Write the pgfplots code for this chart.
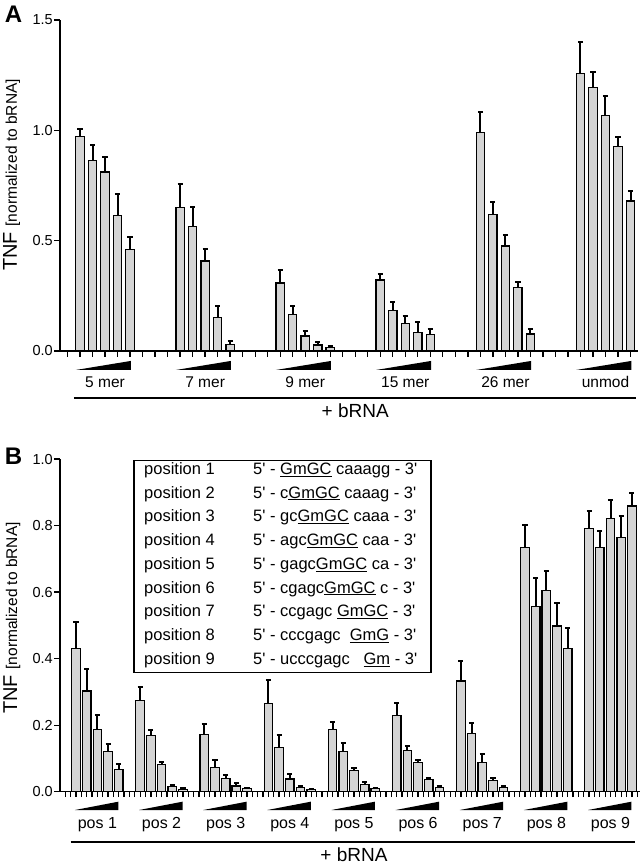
\documentclass[border=0pt]{standalone}
\usepackage{pgfplots}
\usepackage{pgfplotstable}
\pgfplotsset{compat=1.18}
\usepackage{fontspec}
\setmainfont{Liberation Sans}
\definecolor{barfill}{RGB}{212,212,212}
\newcommand\q{\textquotesingle}
\newcommand\fs[1]{\fontsize{#1}{#1}\selectfont}

\pgfplotstableread{
x y e
1 0.971 0.037
2 0.864 0.070
3 0.811 0.068
4 0.613 0.100
5 0.459 0.058
9 0.651 0.104
10 0.563 0.088
11 0.408 0.053
12 0.151 0.054
13 0.029 0.016
17 0.308 0.058
18 0.165 0.040
19 0.068 0.023
20 0.027 0.014
21 0.017 0.007
25 0.322 0.028
26 0.183 0.037
27 0.125 0.034
28 0.083 0.047
29 0.076 0.022
33 0.992 0.091
34 0.619 0.055
35 0.476 0.048
36 0.287 0.024
37 0.077 0.023
41 1.257 0.145
42 1.193 0.073
43 1.069 0.087
44 0.926 0.045
45 0.680 0.045
}\dataA

\pgfplotstableread{
x y e
0 0.431 0.078
1 0.303 0.067
2 0.187 0.043
3 0.121 0.022
4 0.067 0.015
6 0.273 0.041
7 0.168 0.018
8 0.082 0.007
9 0.016 0.005
10 0.007 0.003
12 0.173 0.032
13 0.073 0.023
14 0.039 0.012
15 0.017 0.008
16 0.009 0.002
18 0.266 0.071
19 0.133 0.036
20 0.038 0.014
21 0.013 0.004
22 0.006 0.001
24 0.187 0.023
25 0.120 0.025
26 0.063 0.007
27 0.022 0.008
28 0.009 0.003
30 0.228 0.039
31 0.124 0.012
32 0.089 0.006
33 0.036 0.004
34 0.013 0.004
36 0.333 0.060
37 0.175 0.033
38 0.089 0.025
39 0.033 0.009
40 0.012 0.004
42 0.734 0.067
43 0.556 0.087
44 0.604 0.058
45 0.498 0.068
46 0.430 0.062
48 0.792 0.053
49 0.733 0.051
50 0.820 0.056
51 0.764 0.066
52 0.859 0.040
}\dataB

\pgfplotsset{
  panel/.style={
    scale only axis,
    axis lines*=left,
    axis line style={line width=1.4pt,-},
    tick align=outside,
    major tick length=5.5pt,
    tick style={line width=1.3pt,black},
    xticklabels={},
    ymin=0,
    clip=false,
    ybar,
    /pgf/number format/assume math mode=true,
    yticklabel style={font=\fs{14.5},inner sep=1.5pt,
      /pgf/number format/.cd,fixed,fixed zerofill,precision=1},
    ylabel={\fs{20}TNF \fs{15.5}[normalized to bRNA]},
  },
  bars/.style={fill=barfill,draw=black,line width=1.2pt,
    error bars/.cd,y dir=plus,y explicit,
    error bar style={line width=2pt,black},
    error mark options={rotate=90,line width=2pt,mark size=2.6pt,black}},
}

\begin{document}
\begin{tikzpicture}
\path[use as bounding box] (0pt,0pt) rectangle (643pt,-865pt);
\node[font=\fs{24}\bfseries,inner sep=0] at (13.5pt,-14pt) {A};
\node[font=\fs{24}\bfseries,inner sep=0] at (13.5pt,-456.7pt) {B};

% ---------------- Panel A ----------------
\begin{axis}[panel,
  at={(60pt,-351pt)},anchor=south west,
  width=578pt,height=331pt,
  xmin=-0.6,xmax=45.6,ymax=1.5,
  xtick={0,...,45},
  ytick={0,0.5,1,1.5},
  bar width=0.67,
  ylabel style={at={(axis description cs:-0.0744,0.532)},anchor=base},
]
\addplot[bars] table[x=x,y=y,y error=e] {\dataA};
\fill (axis cs:0.66,-0.086) -- (axis cs:5.06,-0.045) -- (axis cs:5.06,-0.086) -- cycle;
\fill (axis cs:8.66,-0.086) -- (axis cs:13.06,-0.045) -- (axis cs:13.06,-0.086) -- cycle;
\fill (axis cs:16.66,-0.086) -- (axis cs:21.06,-0.045) -- (axis cs:21.06,-0.086) -- cycle;
\fill (axis cs:24.66,-0.086) -- (axis cs:29.06,-0.045) -- (axis cs:29.06,-0.086) -- cycle;
\fill (axis cs:32.66,-0.086) -- (axis cs:37.06,-0.045) -- (axis cs:37.06,-0.086) -- cycle;
\fill (axis cs:40.66,-0.086) -- (axis cs:45.06,-0.045) -- (axis cs:45.06,-0.086) -- cycle;
\node[font=\fs{15.5},inner sep=0] at (axis cs:3,-0.142) {5 mer};
\node[font=\fs{15.5},inner sep=0] at (axis cs:11,-0.142) {7 mer};
\node[font=\fs{15.5},inner sep=0] at (axis cs:19,-0.142) {9 mer};
\node[font=\fs{15.5},inner sep=0] at (axis cs:27,-0.142) {15 mer};
\node[font=\fs{15.5},inner sep=0] at (axis cs:35,-0.142) {26 mer};
\node[font=\fs{15.5},inner sep=0] at (axis cs:43,-0.142) {unmod};
\draw[line width=2pt] (axis cs:0.5,-0.213) -- (axis cs:45.4,-0.213);
\node[font=\fs{19},inner sep=0] at (axis cs:23,-0.271) {+ bRNA};
\end{axis}

% ---------------- Panel B ----------------
\begin{axis}[panel,
  at={(60pt,-791.7pt)},anchor=south west,
  width=580pt,height=332.7pt,
  xmin=-1.5,xmax=52.76,ymax=1.0,
  xtick={-1,-0.5,...,52.5},
  ytick={0,0.2,0.4,0.6,0.8,1.0},
  bar width=0.8,
  ylabel style={at={(axis description cs:-0.0741,0.522)},anchor=base},
]
\addplot[bars] table[x=x,y=y,y error=e] {\dataB};
\fill (axis cs:-0.1,-0.055) -- (axis cs:3.96,-0.030) -- (axis cs:3.96,-0.055) -- cycle;
\fill (axis cs:5.9,-0.055) -- (axis cs:9.96,-0.030) -- (axis cs:9.96,-0.055) -- cycle;
\fill (axis cs:11.9,-0.055) -- (axis cs:15.96,-0.030) -- (axis cs:15.96,-0.055) -- cycle;
\fill (axis cs:17.9,-0.055) -- (axis cs:21.96,-0.030) -- (axis cs:21.96,-0.055) -- cycle;
\fill (axis cs:23.9,-0.055) -- (axis cs:27.96,-0.030) -- (axis cs:27.96,-0.055) -- cycle;
\fill (axis cs:29.9,-0.055) -- (axis cs:33.96,-0.030) -- (axis cs:33.96,-0.055) -- cycle;
\fill (axis cs:35.9,-0.055) -- (axis cs:39.96,-0.030) -- (axis cs:39.96,-0.055) -- cycle;
\fill (axis cs:41.9,-0.055) -- (axis cs:45.96,-0.030) -- (axis cs:45.96,-0.055) -- cycle;
\fill (axis cs:47.9,-0.055) -- (axis cs:51.96,-0.030) -- (axis cs:51.96,-0.055) -- cycle;
\node[font=\fs{16},inner sep=0] at (axis cs:2,-0.100) {pos 1};
\node[font=\fs{16},inner sep=0] at (axis cs:8,-0.100) {pos 2};
\node[font=\fs{16},inner sep=0] at (axis cs:14,-0.100) {pos 3};
\node[font=\fs{16},inner sep=0] at (axis cs:20,-0.100) {pos 4};
\node[font=\fs{16},inner sep=0] at (axis cs:26,-0.100) {pos 5};
\node[font=\fs{16},inner sep=0] at (axis cs:32,-0.100) {pos 6};
\node[font=\fs{16},inner sep=0] at (axis cs:38,-0.100) {pos 7};
\node[font=\fs{16},inner sep=0] at (axis cs:44,-0.100) {pos 8};
\node[font=\fs{16},inner sep=0] at (axis cs:50,-0.100) {pos 9};
\draw[line width=2pt] (axis cs:-0.5,-0.150) -- (axis cs:52.3,-0.150);
\node[font=\fs{19},inner sep=0] at (axis cs:26,-0.190) {+ bRNA};
\end{axis}

% ---------------- sequence table ----------------
\draw[line width=1.3pt,fill=white] (134pt,-460.7pt) rectangle (431pt,-672.7pt);
\begin{scope}[every node/.style={anchor=mid west,inner sep=0,font=\fs{16.5}}]
\node at (144pt,-471.7pt) {position 1};
\node at (144pt,-495.45pt) {position 2};
\node at (144pt,-519.2pt) {position 3};
\node at (144pt,-542.95pt) {position 4};
\node at (144pt,-566.7pt) {position 5};
\node at (144pt,-590.45pt) {position 6};
\node at (144pt,-614.2pt) {position 7};
\node at (144pt,-637.95pt) {position 8};
\node at (144pt,-661.7pt) {position 9};
\node at (253pt,-471.7pt) {5\q{} - \underline{GmGC} caaagg - 3\q};
\node at (253pt,-495.45pt) {5\q{} - c\underline{GmGC} caaag - 3\q};
\node at (253pt,-519.2pt) {5\q{} - gc\underline{GmGC} caaa - 3\q};
\node at (253pt,-542.95pt) {5\q{} - agc\underline{GmGC} caa - 3\q};
\node at (253pt,-566.7pt) {5\q{} - gagc\underline{GmGC} ca - 3\q};
\node at (253pt,-590.45pt) {5\q{} - cgagc\underline{GmGC} c - 3\q};
\node at (253pt,-614.2pt) {5\q{} - ccgagc \underline{GmGC} - 3\q};
\node at (253pt,-637.95pt) {5\q{} - cccgagc\ \ \underline{GmG} - 3\q};
\node at (253pt,-661.7pt) {5\q{} - ucccgagc\ \ \ \underline{Gm} - 3\q};
\end{scope}
\end{tikzpicture}
\end{document}
